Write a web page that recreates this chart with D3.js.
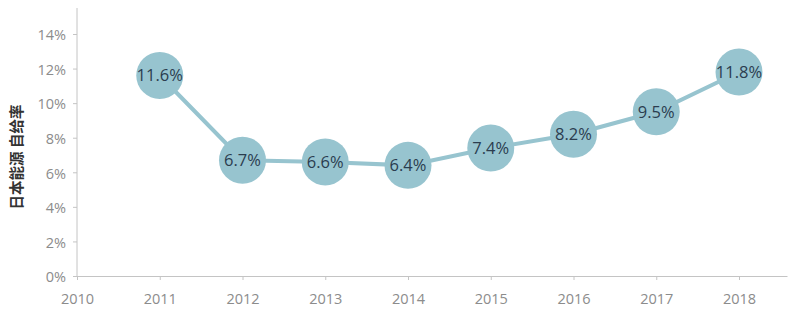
<!DOCTYPE html>
<html><head><meta charset="utf-8">
<script src="https://cdn.jsdelivr.net/npm/d3@7"></script>
<style>body{margin:0;background:#fff;}</style>
</head><body>
<svg id="c" width="800" height="323"></svg>
<script>
const years = [2011, 2012, 2013, 2014, 2015, 2016, 2017, 2018];
const values = [11.6, 6.7, 6.6, 6.4, 7.4, 8.2, 9.5, 11.8];
const xTicks = [2010, 2011, 2012, 2013, 2014, 2015, 2016, 2017, 2018];
const yTicks = [0, 2, 4, 6, 8, 10, 12, 14];
const yTitle = "日本能源 自给率";

const svg = d3.select("#c");
const x = d3.scaleLinear().domain([2010, 2018.58]).range([77, 787]);
const y = d3.scaleLinear().domain([0, 14]).range([276, 34]);
const axisColor = "#c4c4c4", textColor = "#8c8c8c";

// y axis
const ya = svg.append("g").attr("transform", "translate(77,0)")
  .call(d3.axisLeft(y).tickValues(yTicks).tickSize(4).tickFormat(d => d + "%"));
ya.select(".domain").remove();
ya.append("line").attr("x1", 0).attr("x2", 0).attr("y1", 8).attr("y2", 276).attr("stroke", axisColor);
ya.selectAll(".tick line").attr("stroke", axisColor);
ya.selectAll(".tick text").attr("fill", textColor).attr("font-family", "Open Sans, sans-serif")
  .attr("font-size", 14.5).attr("x", -11).attr("dy", "0.4em");

// x axis
const xa = svg.append("g").attr("transform", "translate(0,276)")
  .call(d3.axisBottom(x).tickValues(xTicks).tickSize(4).tickFormat(d3.format("d")).tickSizeOuter(0));
xa.select(".domain").attr("stroke", axisColor);
xa.selectAll(".tick line").attr("stroke", axisColor);
xa.selectAll(".tick text").attr("fill", textColor).attr("font-family", "Open Sans, sans-serif")
  .attr("font-size", 14.5).attr("y", 18);

// y title
svg.append("text").attr("transform", "translate(22,157) rotate(-90)")
  .attr("text-anchor", "middle").attr("font-family", "Noto Sans CJK SC, sans-serif")
  .attr("font-weight", "bold").attr("font-size", 14.5).attr("fill", "#333").text(yTitle);

const data = years.map((yr, i) => ({yr, v: values[i]}));
const col = "#97c4cf";
svg.append("path").datum(data)
  .attr("d", d3.line().x(d => x(d.yr)).y(d => y(d.v)))
  .attr("fill", "none").attr("stroke", col).attr("stroke-width", 4);

svg.selectAll("circle.pt").data(data).join("circle").attr("class", "pt")
  .attr("cx", d => x(d.yr)).attr("cy", d => y(d.v)).attr("r", 23.5).attr("fill", col);

svg.selectAll("text.lbl").data(data).join("text").attr("class", "lbl")
  .attr("x", d => x(d.yr)).attr("y", d => y(d.v)).attr("dy", "0.36em")
  .attr("text-anchor", "middle").attr("font-family", "Open Sans, sans-serif")
  .attr("font-size", 16.5).attr("fill", "#2b3d4f").text(d => d.v.toFixed(1) + "%");
</script>
</body></html>
